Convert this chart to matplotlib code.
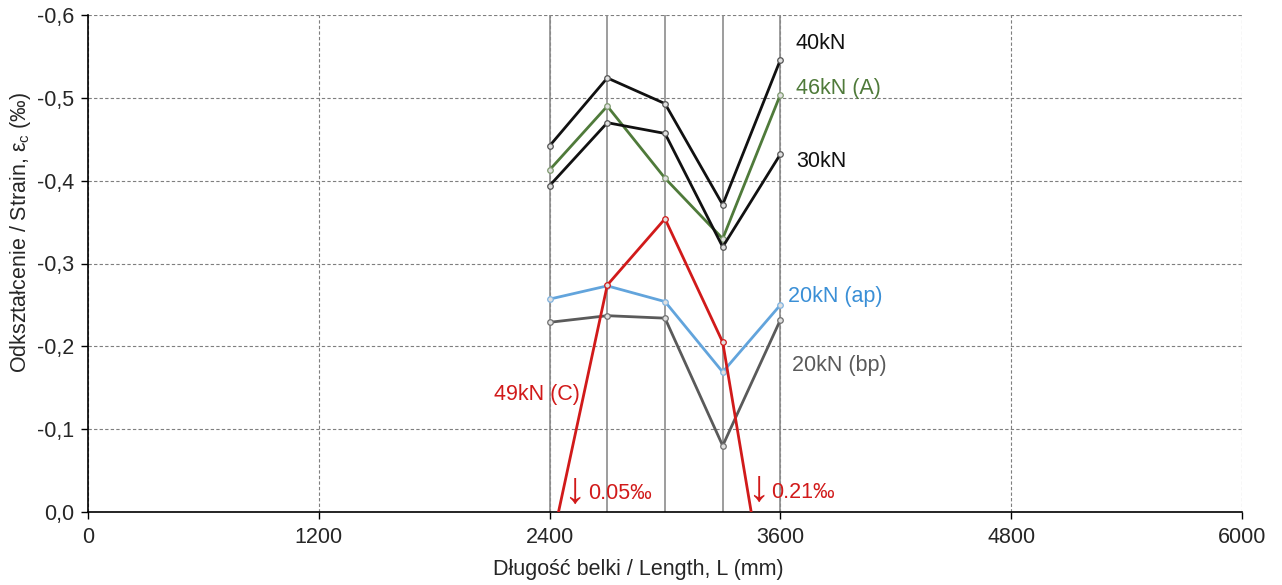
import matplotlib.pyplot as plt

plt.rcParams['font.family'] = ['Liberation Sans', 'DejaVu Sans']
plt.rcParams['mathtext.fontset'] = 'custom'
plt.rcParams['mathtext.rm'] = 'Liberation Sans'
plt.rcParams['mathtext.it'] = 'Liberation Sans'

# gauge positions along the beam (mm)
gauge_x = [2400, 2700, 3000, 3300, 3600]

# strain readings (per mille), compression negative
strain_40kN = [-0.442, -0.524, -0.493, -0.371, -0.546]
strain_46kN_A = [-0.413, -0.490, -0.403, -0.330, -0.504]
strain_30kN = [-0.394, -0.470, -0.457, -0.320, -0.432]
strain_20kN_ap = [-0.257, -0.273, -0.254, -0.169, -0.250]
strain_20kN_bp = [-0.229, -0.237, -0.234, -0.080, -0.232]
strain_49kN_C = [0.05, -0.274, -0.354, -0.205, 0.21]

x_ticks = [0, 1200, 2400, 3600, 4800, 6000]
y_ticks = [0.0, -0.1, -0.2, -0.3, -0.4, -0.5, -0.6]

FS = 15.5
TXT = '#262626'

fig = plt.figure(figsize=(12.82, 5.85), dpi=100)
ax = fig.add_axes([88 / 1282, 73 / 585, 1154 / 1282, 497 / 585])

# dashed grid
ax.set_xticks(x_ticks)
ax.set_yticks(y_ticks)
ax.grid(True, color='#7f7f7f', linestyle=(0, (3, 2)), linewidth=0.8)
ax.set_axisbelow(True)

# solid lines at gauge positions
for gx in gauge_x:
  ax.axvline(gx, color='#8c8c8c', linewidth=1.2, zorder=1)

series = [
  (strain_40kN, '#111111', '#555555'),
  (strain_46kN_A, '#4f7a3a', '#7f9a70'),
  (strain_30kN, '#111111', '#555555'),
  (strain_20kN_ap, '#62a4dc', '#7fb3e0'),
  (strain_20kN_bp, '#5a5a5a', '#707070'),
  (strain_49kN_C, '#d11a1a', '#d11a1a'),
]
for values, color, mcolor in series:
  ax.plot(gauge_x, values, color=color, linewidth=2, marker='o',
          markersize=4, markerfacecolor='#e0e0e0', markeredgecolor=mcolor,
          markeredgewidth=0.9, zorder=3)

ax.set_xlim(0, 6000)
ax.set_ylim(0, -0.6)

for side in ['top', 'right']:
  ax.spines[side].set_visible(False)
for side in ['left', 'bottom']:
  ax.spines[side].set_color('black')
  ax.spines[side].set_linewidth(1.2)

ax.tick_params(axis='both', direction='out', length=5, width=1,
               labelsize=FS, colors='black', labelcolor=TXT)
ax.tick_params(axis='y', pad=5)
ax.tick_params(axis='x', pad=6)
ax.set_yticklabels([f'{v:.1f}'.replace('.', ',') for v in y_ticks])
ax.set_xticklabels([str(v) for v in x_ticks])

# series labels
ax.text(3680, -0.566, '40kN', color='#111111', fontsize=FS, va='center')
ax.text(3680, -0.511, '46kN (A)', color='#4f7a3a', fontsize=FS, va='center')
ax.text(3680, -0.423, '30kN', color='#111111', fontsize=FS, va='center')
ax.text(3640, -0.260, '20kN (ap)', color='#3a8fd6', fontsize=FS, va='center')
ax.text(3660, -0.177, '20kN (bp)', color='#5a5a5a', fontsize=FS, va='center')
ax.text(2110, -0.142, '49kN (C)', color='#d11a1a', fontsize=FS, va='center')

# off-scale values of the 49kN (C) series
ax.text(2530, -0.025, '↓', color='#d11a1a', fontsize=32, va='center',
        ha='center')
ax.text(2600, -0.022, '0.05‰', color='#d11a1a', fontsize=FS, va='center')
ax.text(3484, -0.027, '↓', color='#d11a1a', fontsize=32, va='center',
        ha='center')
ax.text(3552, -0.024, '0.21‰', color='#d11a1a', fontsize=FS, va='center')

fig.text(638 / 1282, 1 - 570 / 585, 'Długość belki / Length, L (mm)',
         ha='center', va='center', fontsize=FS, color=TXT)
fig.text(21 / 1282, 1 - 232 / 585,
         r'Odkształcenie / Strain, $\epsilon_{\mathrm{c}}$ (‰)',
         rotation=90, ha='center', va='center', fontsize=FS, color=TXT)

fig.savefig('out.png', dpi=100)
